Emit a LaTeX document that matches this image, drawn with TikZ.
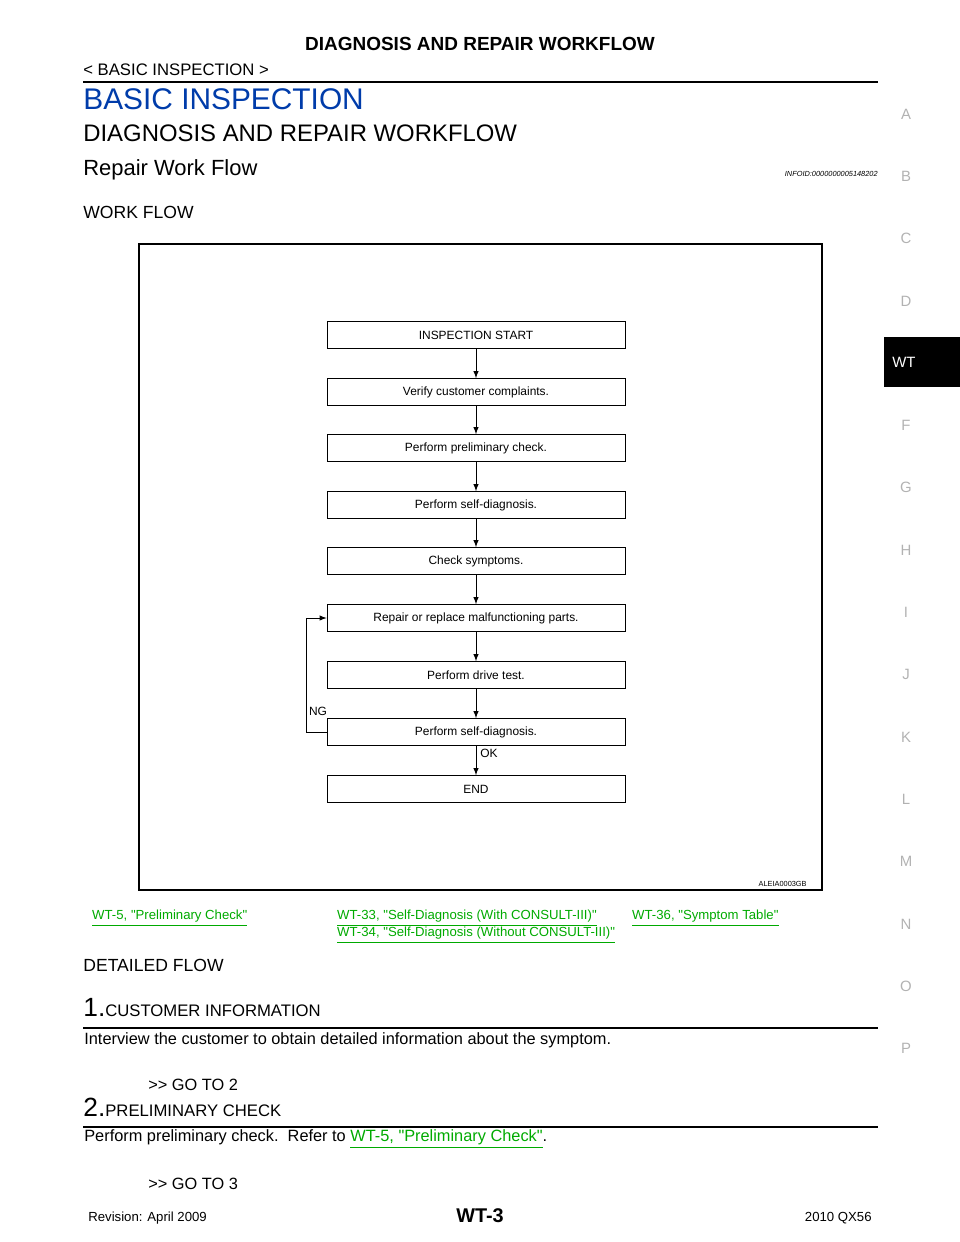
\documentclass[tikz,border=0pt]{standalone}
\usepackage{fontspec}
\setmainfont{Liberation Sans}
\usetikzlibrary{positioning}
\definecolor{linkgreen}{RGB}{0,170,0}
\definecolor{headblue}{RGB}{0,60,170}
\tikzset{
  flowbox/.style={draw,minimum width=298*0.02cm,minimum height=27*0.02cm,inner sep=0pt,font=\fontsize{6.8}{8}\selectfont},
  flowarrow/.style={->,>=latex},
  sideletter/.style={text=gray!60,font=\fontsize{8.5}{10}\selectfont},
  link/.style={anchor=west,text=linkgreen,font=\fontsize{7.5}{9}\selectfont},
  body/.style={anchor=west,font=\fontsize{9.3}{11}\selectfont}
}
\newcommand{\lnk}[1]{\underline{#1}}
\newcommand{\q}{\textquotedbl}
\begin{document}
\begin{tikzpicture}[x=0.02cm,y=-0.02cm]
\useasboundingbox (0,0) rectangle (960,1242);
% Kopf
\node (title) at (480,44) {\fontsize{10.8}{13}\selectfont\bfseries DIAGNOSIS AND REPAIR WORKFLOW};
\node[body,inner sep=0pt] (sect) at (83,70) {\fontsize{9.5}{11}\selectfont < BASIC INSPECTION >};
\draw[line width=1.2pt] (83,82) -- (878,82);
\node[anchor=west,inner sep=0pt,text=headblue] (basic) at (83,99) {\fontsize{17}{20}\selectfont BASIC INSPECTION};
\node[anchor=west,inner sep=0pt] (wfhead) at (83,133) {\fontsize{13.6}{16}\selectfont DIAGNOSIS AND REPAIR WORKFLOW};
\node[anchor=west,inner sep=0pt] (rwf) at (83,170) {\fontsize{12.5}{15}\selectfont Repair Work Flow};
\node[anchor=east,inner sep=0pt] (infoid) at (878,174) {\fontsize{4.2}{5}\selectfont\itshape INFOID:0000000005148202};
\node[anchor=west,inner sep=0pt] (wf) at (83,212) {\fontsize{10}{12}\selectfont WORK FLOW};

% Rahmen
\draw[line width=0.9pt] (139,244) rectangle (822,890);
\node[anchor=east,inner sep=0pt] (alei) at (807,884) {\fontsize{4.2}{5}\selectfont ALEIA0003GB};

% Ablauf
\node[flowbox] (s1) at (476,335) {INSPECTION START};
\node[flowbox] (s2) at (476,392) {Verify customer complaints.};
\node[flowbox] (s3) at (476,448) {Perform preliminary check.};
\node[flowbox] (s4) at (476,505) {Perform self-diagnosis.};
\node[flowbox] (s5) at (476,561) {Check symptoms.};
\node[flowbox] (s6) at (476,618) {Repair or replace malfunctioning parts.};
\node[flowbox] (s7) at (476,675) {Perform drive test.};
\node[flowbox] (s8) at (476,732) {Perform self-diagnosis.};
\node[flowbox] (s9) at (476,789) {END};
\foreach \a/\b in {s1/s2,s2/s3,s3/s4,s4/s5,s5/s6,s6/s7,s7/s8,s8/s9}
  \draw[flowarrow] (\a) -- (\b);
\coordinate (ngbot) at (306,732);
\coordinate (ngtop) at (306,618);
\draw[flowarrow] (s8.west) -- (ngbot) -- (ngtop) -- (s6.west);
\node[font=\fontsize{6.8}{8}\selectfont] (ng) at (318,711) {NG};
\node[font=\fontsize{6.8}{8}\selectfont] (ok) at (489,753) {OK};

% Verweise
\node[link] (l1) at (86,918) {\lnk{WT-5, \q Preliminary Check\q}};
\node[link] (l2) at (331,918) {\lnk{WT-33, \q Self-Diagnosis (With CONSULT-III)\q}};
\node[link] (l3) at (331,935) {\lnk{WT-34, \q Self-Diagnosis (Without CONSULT-III)\q}};
\node[link] (l4) at (626,918) {\lnk{WT-36, \q Symptom Table\q}};

% Details
\node[anchor=west,inner sep=0pt] (df) at (83,965) {\fontsize{10}{12}\selectfont DETAILED FLOW};
\node[anchor=west,inner sep=0pt] (c1) at (83,1008) {\fontsize{15}{18}\selectfont 1.\fontsize{9.5}{11}\selectfont CUSTOMER INFORMATION};
\draw[line width=0.6pt] (83,1028) -- (878,1028);
\node[body,inner sep=0pt] (t1) at (84,1040) {Interview the customer to obtain detailed information about the symptom.};
\node[body,inner sep=0pt] (g1) at (148,1085) {{>}{>} GO TO 2};
\node[anchor=west,inner sep=0pt] (c2) at (83,1107) {\fontsize{15}{18}\selectfont 2.\fontsize{9.5}{11}\selectfont PRELIMINARY CHECK};
\draw[line width=0.6pt] (83,1127) -- (878,1127);
\node[body,inner sep=0pt] (t2) at (84,1139) {Perform preliminary check.\ \ Refer to \textcolor{linkgreen}{\lnk{WT-5, \q Preliminary Check\q}}.};
\node[body,inner sep=0pt] (g2) at (148,1184) {{>}{>} GO TO 3};

% Fuss
\node[anchor=west,inner sep=0pt,font=\fontsize{7.5}{9}\selectfont] (rev) at (88,1218) {Revision: April 2009};
\node[font=\fontsize{11.3}{13}\selectfont\bfseries] (page) at (480,1216) {WT-3};
\node[anchor=east,inner sep=0pt,font=\fontsize{7.5}{9}\selectfont] (model) at (872,1218) {2010 QX56};

% Seitenleiste
\fill[black] (884,337) rectangle (960,387);
\node[text=white,font=\fontsize{8.5}{10}\selectfont] (wt) at (904,362) {WT};
\foreach \l [count=\i from 0] in {A,B,C,D,,F,G,H,I,J,K,L,M,N,O,P}
  \node[sideletter] (side\i) at (906,114+62.3*\i) {\l};
\end{tikzpicture}
\end{document}
